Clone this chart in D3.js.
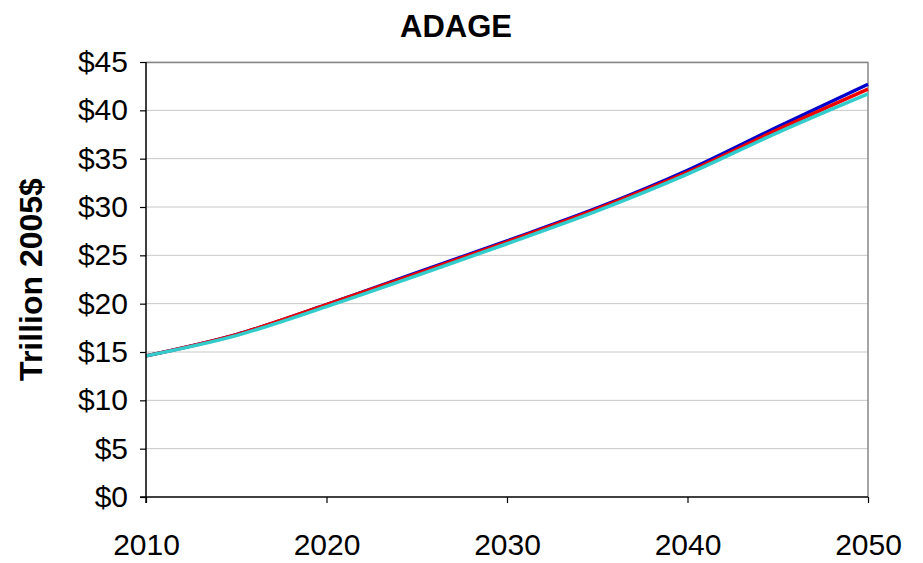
<!DOCTYPE html>
<html>
<head>
<meta charset="utf-8">
<script src="https://cdn.jsdelivr.net/npm/d3@7"></script>
<style>
  body { margin: 0; background: #fff; }
  text { font-family: "Liberation Sans", Arial, sans-serif; }
</style>
</head>
<body>
<script>
// data (trillion 2005$)
var years = [2010, 2015, 2020, 2025, 2030, 2035, 2040, 2045, 2050];
var seriesBlue = [14.6, 16.8, 19.9, 23.2, 26.5, 29.9, 33.8, 38.3, 42.7];
var seriesRed  = [14.6, 16.8, 19.9, 23.1, 26.4, 29.8, 33.6, 38.0, 42.2];
var seriesCyan = [14.6, 16.7, 19.7, 22.9, 26.2, 29.6, 33.4, 37.7, 41.7];
var yTicks = [0, 5, 10, 15, 20, 25, 30, 35, 40, 45];
var xTicks = [2010, 2020, 2030, 2040, 2050];

var series = [
  {name: "blue", values: seriesBlue, color: "#0000cc"},
  {name: "red",  values: seriesRed,  color: "#ee0000"},
  {name: "cyan", values: seriesCyan, color: "#33cccc"}
];

var margin = {top: 62, right: 55, bottom: 66, left: 146},
    width = 923 - margin.left - margin.right,
    height = 563 - margin.top - margin.bottom;

var svg = d3.select("body")
            .append("svg")
            .attr("width", 923)
            .attr("height", 563);

var g = svg.append("g")
           .attr("transform", "translate(" + margin.left + "," + margin.top + ")");

var xScale = d3.scaleLinear().domain([2010, 2050]).range([0, width]);
var yScale = d3.scaleLinear().domain([0, 45]).range([height, 0]);

// gridlines
g.selectAll(".grid")
 .data(yTicks.slice(1))
 .enter()
 .append("line")
 .attr("x1", 0)
 .attr("x2", width)
 .attr("y1", function(d) {return yScale(d);})
 .attr("y2", function(d) {return yScale(d);})
 .style("stroke", "#c8c8c8")
 .style("stroke-width", 1);

// plot area border (top and right)
g.append("path")
 .attr("d", "M0,0.5H" + width + "V" + height)
 .style("fill", "none")
 .style("stroke", "#888")
 .style("stroke-width", 1.5);

// the lines
var line = d3.line()
             .curve(d3.curveMonotoneX)
             .x(function(d, i) {return xScale(years[i]);})
             .y(function(d) {return yScale(d);});

g.selectAll(".series")
 .data(series)
 .enter()
 .append("path")
 .attr("class", "series")
 .attr("d", function(d) {return line(d.values);})
 .style("fill", "none")
 .style("stroke", function(d) {return d.color;})
 .style("stroke-width", 3.5)
 .style("stroke-linejoin", "round");

// axes
var yAxis = g.append("g")
             .call(d3.axisLeft(yScale).tickValues(yTicks)
                     .tickFormat(function(d) {return "$" + d;})
                     .tickSize(6).tickSizeOuter(0).tickPadding(12));

var xAxis = g.append("g")
             .attr("transform", "translate(0," + height + ")")
             .call(d3.axisBottom(xScale).tickValues(xTicks)
                     .tickFormat(d3.format("d"))
                     .tickSize(6).tickSizeOuter(0).tickPadding(31));

[xAxis, yAxis].forEach(function(a) {
  a.select(".domain").style("stroke", "#000").style("stroke-width", 1.5);
  a.selectAll(".tick line").style("stroke", "#000").style("stroke-width", 1.2);
  a.selectAll("text")
   .style("font-family", "'Liberation Sans', Arial, sans-serif")
   .style("font-size", "30px")
   .style("fill", "#000");
});
// extend y-axis domain down past the x-axis like the reference
yAxis.select(".domain").attr("d", "M0,0V" + (height + 6));
xAxis.select(".domain").attr("d", "M-6,0H" + width);

// title
svg.append("text")
   .attr("x", 456)
   .attr("y", 37)
   .style("text-anchor", "middle")
   .style("font-size", "31px")
   .style("font-weight", "bold")
   .text("ADAGE");

// y-axis title
svg.append("text")
   .attr("transform", "translate(42," + (margin.top + height / 2) + ") rotate(-90)")
   .style("text-anchor", "middle")
   .style("font-size", "32px")
   .style("font-weight", "bold")
   .text("Trillion 2005$");
</script>
</body>
</html>
